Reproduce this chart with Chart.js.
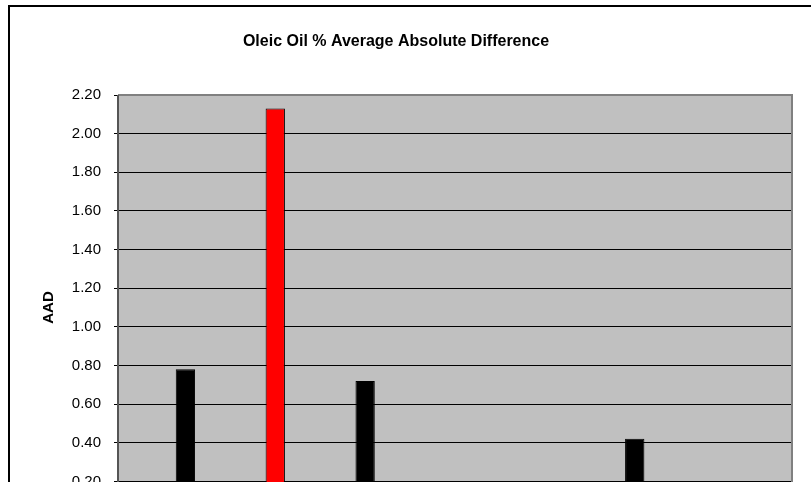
<!DOCTYPE html>
<html>
<head>
<meta charset="utf-8">
<script src="https://cdn.jsdelivr.net/npm/chart.js@4.4.0/dist/chart.umd.min.js"></script>
<style>
  html, body { margin: 0; padding: 0; background: #fff; overflow: hidden; width: 811px; height: 482px; }
  #wrap { position: absolute; left: 0; top: 0; width: 811px; height: 560px; }
</style>
</head>
<body>
<div id="wrap"><canvas id="c" width="811" height="560"></canvas></div>
<script>
// ---- Data (the reference is cropped below 0.20; hidden slots left empty) ----
const chartTitle = 'Oleic Oil % Average Absolute Difference';
const yAxisTitle = 'AAD';
const categories = ['1','2','3','4','5','6','7','8','9','10','11','12','13','14','15'];
const aadValues  = [null, 0.78, null, 2.13, null, 0.72, null, null, null, null, null, 0.42, null, null, null];
const highlightCategory = '4';
const yTicks = [0, 0.2, 0.4, 0.6, 0.8, 1.0, 1.2, 1.4, 1.6, 1.8, 2.0, 2.2];

const FONT = 'Liberation Sans, Arial, sans-serif';

const frame = {
  id: 'frame',
  beforeDraw(chart) {
    const ctx = chart.ctx, a = chart.chartArea;
    ctx.save();
    ctx.fillStyle = '#fff';
    ctx.fillRect(0, 0, chart.width, chart.height);
    ctx.strokeStyle = '#000';
    ctx.lineWidth = 2;
    ctx.strokeRect(9, 6, chart.width + 20, chart.height + 20);
    ctx.fillStyle = '#C0C0C0';
    ctx.fillRect(a.left, a.top, a.right - a.left, a.bottom - a.top);
    ctx.restore();
  },
  afterDatasetsDraw(chart) {
    const ctx = chart.ctx, a = chart.chartArea;
    ctx.save();
    ctx.strokeStyle = '#808080';
    ctx.lineWidth = 2;
    ctx.beginPath();
    ctx.moveTo(a.left, a.top);
    ctx.lineTo(a.right, a.top);
    ctx.lineTo(a.right, a.bottom);
    ctx.stroke();
    ctx.strokeStyle = '#555';
    ctx.lineWidth = 2;
    ctx.beginPath();
    ctx.moveTo(a.left, a.top);
    ctx.lineTo(a.left, a.bottom);
    ctx.stroke();
    ctx.restore();
  }
};

new Chart(document.getElementById('c'), {
  type: 'bar',
  data: {
    labels: categories,
    datasets: [{
      data: aadValues,
      backgroundColor: ctx => categories[ctx.dataIndex] === highlightCategory ? '#FF0000' : '#000000',
      borderColor: '#000000',
      borderWidth: 1,
      barPercentage: 0.43,
      categoryPercentage: 1.0
    }]
  },
  options: {
    responsive: false,
    animation: false,
    layout: { padding: { left: 0, right: 19, top: 0, bottom: 0 } },
    plugins: {
      legend: { display: false },
      tooltip: { enabled: false },
      title: {
        display: true,
        text: chartTitle,
        color: '#000',
        font: { family: FONT, size: 16, weight: 'bold' },
        padding: { top: 32.4, bottom: 43.4 }
      }
    },
    scales: {
      x: {
        grid: { display: false, drawTicks: false },
        border: { display: false },
        ticks: { color: '#000', font: { family: FONT, size: 15 } },
        afterFit: s => { s.height = 40; }
      },
      y: {
        min: 0,
        max: 2.2,
        afterBuildTicks: s => { s.ticks = yTicks.map(v => ({ value: v })); },
        afterFit: s => { s.width = 118; },
        grid: { color: '#000', lineWidth: 1, tickLength: 4, drawOnChartArea: true },
        border: { display: false },
        ticks: {
          color: '#000',
          padding: 13,
          font: { family: FONT, size: 15 },
          callback: v => Number(v).toFixed(2)
        },
        title: {
          display: true,
          text: yAxisTitle,
          color: '#000',
          font: { family: FONT, size: 15, weight: 'bold' },
          padding: { top: 40, bottom: 0 }
        }
      }
    }
  },
  plugins: [frame]
});
</script>
</body>
</html>
